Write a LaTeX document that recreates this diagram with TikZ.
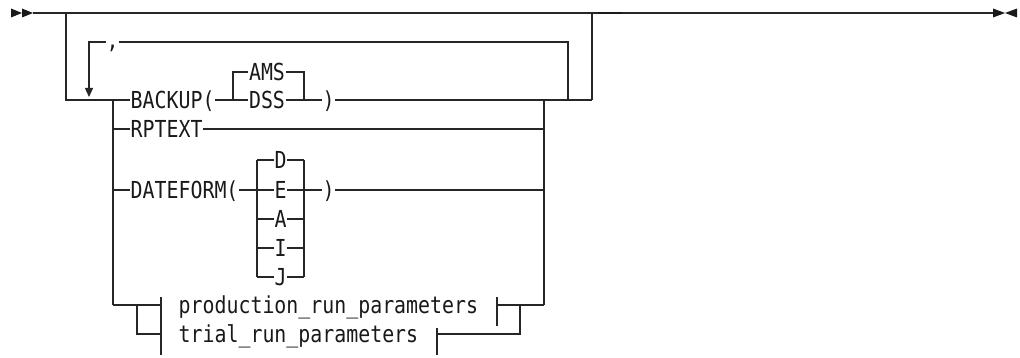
\documentclass[tikz,border=0pt]{standalone}
\usepackage{fontspec}
\newfontfamily\rrfont[FakeStretch=0.85]{DejaVu Sans Mono}
\usetikzlibrary{arrows.meta}
\tikzset{
  rail/.style={draw=black!85, line width=1.1pt},
  railthick/.style={draw=black!90, line width=1.9pt},
  rr/.style={font={\fontsize{23.4pt}{26pt}\rrfont}, text=black!90, inner xsep=0.5pt, inner ysep=0pt, text height=17pt, text depth=0pt},
  endmark/.style={fill=black!90, draw=none},
}
\begin{document}
\begin{tikzpicture}[x=1pt,y=-1pt]
\useasboundingbox (0,0) rectangle (1020,358);
% ---- main line coordinates
\coordinate (s0) at (33,13);
\coordinate (b1) at (66,13);
\coordinate (b2) at (592,13);
\coordinate (e0) at (993,13);
\coordinate (th0) at (598,13);
\coordinate (th1) at (622,13);
% start / end markers
\fill[endmark] (11,8.5) -- (22,13) -- (11,17.5) -- cycle;
\fill[endmark] (22,8.5) -- (33,13) -- (22,17.5) -- cycle;
\fill[endmark] (993,8.5) -- (1005,13) -- (993,17.5) -- cycle;
\fill[endmark] (1017,8.5) -- (1005,13) -- (1017,17.5) -- cycle;
\draw[rail] (s0) -- (e0);
\draw[railthick] (th0) -- (th1);
% ---- text nodes
\node[rr, anchor=west] (backup) at (130,100) {BACKUP(};
\node[rr] (ams) at (267,72) {AMS};
\node[rr] (dss) at (267,100) {DSS};
\node[rr] (bparen) at (328.5,100) {)};
\node[rr, anchor=west] (rptext) at (130,129) {RPTEXT};
\node[rr, anchor=west] (dateform) at (130,190) {DATEFORM(};
\node[rr] (oD) at (280.5,160) {D};
\node[rr] (oE) at (280.5,190) {E};
\node[rr] (oA) at (280.5,219) {A};
\node[rr] (oI) at (280.5,248) {I};
\node[rr] (oJ) at (280.5,277) {J};
\node[rr] (dparen) at (328.5,190) {)};
\node[rr, text height=13pt] (comma) at (112.5,42) {,};
\node[rr, anchor=west] (prod) at (178,305) {production\_run\_parameters};
\node[rr, anchor=west] (trial) at (178,334) {trial\_run\_parameters};
% ---- junction coordinates
\coordinate (L0) at (113,100);
\coordinate (L1) at (113,129);
\coordinate (L2) at (113,190);
\coordinate (L4) at (113,305);
\coordinate (J544) at (544,100);
\coordinate (J568) at (568,100);
\coordinate (J592) at (592,100);
\coordinate (R1) at (544,129);
\coordinate (R2) at (544,190);
\coordinate (R4) at (544,305);
\coordinate (bl0) at (233,72);
\coordinate (bl1) at (233,100);
\coordinate (br0) at (304,72);
\coordinate (br1) at (304,100);
\coordinate (lp0) at (568,42);
\coordinate (lp1) at (89,42);
\coordinate (lp2) at (89,97);
% bypass and main branch
\draw[rail] (b1) |- (L0) -- (backup);
\draw[rail] (b2) -- (J592);
\draw[rail] (L0) -- (L4);
\draw[rail] (J544) -- (R4);
% repeat loop
\draw[rail] (J568) -- (lp0) -- (comma);
\draw[rail, -{Triangle[width=8pt,length=9pt]}] (comma) -- (lp1) -- (lp2);
% BACKUP row
\draw[rail] (backup) -- (dss) -- (bparen);
\draw[rail] (bl1) -- (bl0) -- (ams) -- (br0) -- (br1);
\draw[rail] (bparen) -- (J592);
% RPTEXT row
\draw[rail] (L1) -- (rptext) -- (R1);
% DATEFORM row
\coordinate (dl1) at (257,160); \coordinate (dr1) at (304,160);
\coordinate (dl2) at (257,190); \coordinate (dr2) at (304,190);
\coordinate (dl3) at (257,219); \coordinate (dr3) at (304,219);
\coordinate (dl4) at (257,248); \coordinate (dr4) at (304,248);
\coordinate (dl5) at (257,277); \coordinate (dr5) at (304,277);
\draw[rail] (L2) -- (dateform) -- (oE) -- (dparen) -- (R2);
\draw[rail] (dl1) -- (dl5);
\draw[rail] (dr1) -- (dr5);
\draw[rail] (dl1) -- (oD) -- (dr1);
\draw[rail] (dl3) -- (oA) -- (dr3);
\draw[rail] (dl4) -- (oI) -- (dr4);
\draw[rail] (dl5) -- (oJ) -- (dr5);
% fragment references
\coordinate (t1m) at (161,305);
\coordinate (t1a) at (161,297);
\coordinate (t1b) at (161,355);
\coordinate (pb0) at (137,305);
\coordinate (t1c) at (161,334);
\coordinate (t2a) at (497,297);
\coordinate (t2m) at (497,305);
\coordinate (t2b) at (497,326);
\coordinate (pb1) at (520,305);
\coordinate (pb2) at (520,334);
\coordinate (t3a) at (437,328);
\coordinate (t3m) at (437,334);
\coordinate (t3b) at (437,355);
\draw[rail] (L4) -- (t1m);
\draw[rail] (pb0) |- (t1c);
\draw[rail] (t1a) -- (t1b);
\draw[rail] (t2a) -- (t2b);
\draw[rail] (t2m) -- (R4);
\draw[rail] (pb1) -- (pb2) -- (t3m);
\draw[rail] (t3a) -- (t3b);
\end{tikzpicture}
\end{document}
